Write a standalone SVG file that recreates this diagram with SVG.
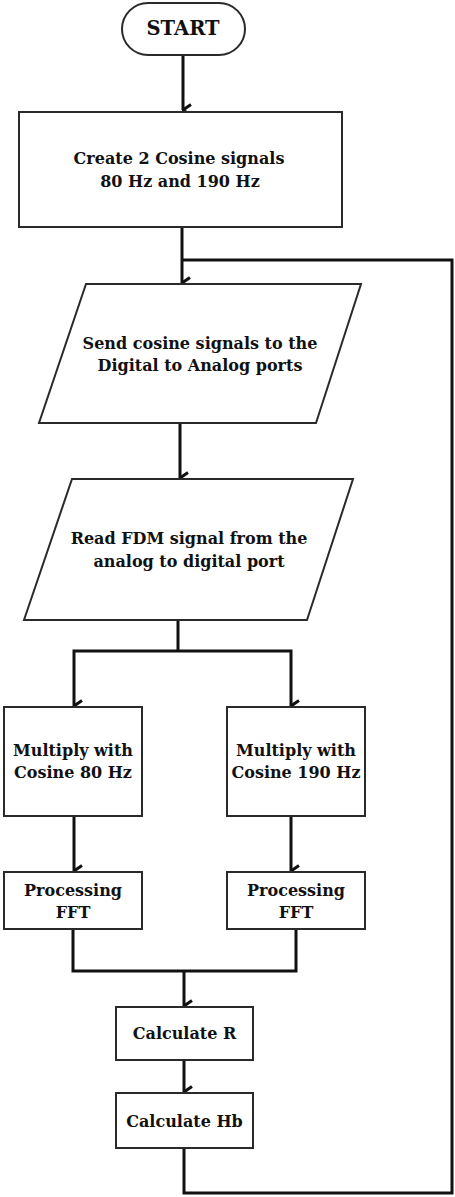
<svg xmlns="http://www.w3.org/2000/svg" width="455" height="1197" viewBox="0 0 455 1197">
  <style>
    .box { fill: #fff; stroke: #2a2a2a; stroke-width: 2; }
    .lbl { font-family: "DejaVu Serif", "Liberation Serif", serif; font-weight: bold; font-size: 16px; fill: #111; text-anchor: middle; }
    .big { font-size: 19.5px; }
    .wire { fill: none; stroke: #111; stroke-width: 3; stroke-linejoin: miter; }
  </style>
  <defs>
    <marker id="tip" viewBox="0 0 14 11" refX="7" refY="10" markerWidth="14" markerHeight="11" markerUnits="userSpaceOnUse" orient="auto-start-reverse">
      <path d="M1.5,2 L7,10 L12.5,2" fill="none" stroke="#111" stroke-width="3"/>
    </marker>
  </defs>

  <rect width="455" height="1197" fill="#fff"/>

  <!-- connectors -->
  <g id="connectors">
    <path class="wire" d="M183,55 V110" marker-end="url(#tip)"/>
    <path class="wire" d="M182,227 V283" marker-end="url(#tip)"/>
    <path class="wire" d="M180,423 V478" marker-end="url(#tip)"/>
    <path class="wire" d="M178,620 V651"/>
    <path class="wire" d="M74,706 V651 H291 V706" marker-start="url(#tip)" marker-end="url(#tip)"/>
    <path class="wire" d="M74,816 V871" marker-end="url(#tip)"/>
    <path class="wire" d="M291,816 V871" marker-end="url(#tip)"/>
    <path class="wire" d="M73,929 V971 H296 V929"/>
    <path class="wire" d="M184,971 V1006" marker-end="url(#tip)"/>
    <path class="wire" d="M184,1060 V1092" marker-end="url(#tip)"/>
    <path class="wire" d="M184,1148 V1193 H452 V260 H182"/>
  </g>

  <g id="start">
    <rect class="box" x="122" y="3" width="123" height="52" rx="26" ry="26"/>
    <text class="lbl big" x="183" y="35">START</text>
  </g>

  <g id="create-signals">
    <rect class="box" x="19" y="112" width="323" height="115"/>
    <text class="lbl" x="179" y="164">Create 2 Cosine signals</text>
    <text class="lbl" x="180" y="187">80 Hz and 190 Hz</text>
  </g>

  <g id="send-dac">
    <polygon class="box" points="86,284 361,284 316,423 39,423"/>
    <text class="lbl" x="200" y="349">Send cosine signals to the</text>
    <text class="lbl" x="200" y="371">Digital to Analog ports</text>
  </g>

  <g id="read-adc">
    <polygon class="box" points="72,479 353,479 307,620 24,620"/>
    <text class="lbl" x="189" y="544">Read FDM signal from the</text>
    <text class="lbl" x="189" y="567">analog to digital port</text>
  </g>

  <g id="multiply-80">
    <rect class="box" x="4" y="707" width="138" height="109"/>
    <text class="lbl" x="73" y="756">Multiply with</text>
    <text class="lbl" x="73" y="778">Cosine 80 Hz</text>
  </g>

  <g id="multiply-190">
    <rect class="box" x="227" y="707" width="138" height="109"/>
    <text class="lbl" x="296" y="756">Multiply with</text>
    <text class="lbl" x="296" y="778">Cosine 190 Hz</text>
  </g>

  <g id="fft-80">
    <rect class="box" x="4" y="872" width="138" height="57"/>
    <text class="lbl" x="73" y="896">Processing</text>
    <text class="lbl" x="73" y="918">FFT</text>
  </g>

  <g id="fft-190">
    <rect class="box" x="227" y="872" width="138" height="57"/>
    <text class="lbl" x="296" y="896">Processing</text>
    <text class="lbl" x="296" y="918">FFT</text>
  </g>

  <g id="calc-r">
    <rect class="box" x="116" y="1007" width="137" height="53"/>
    <text class="lbl" x="184.5" y="1039">Calculate R</text>
  </g>

  <g id="calc-hb">
    <rect class="box" x="116" y="1093" width="137" height="55"/>
    <text class="lbl" x="184.5" y="1127">Calculate Hb</text>
  </g>
</svg>
